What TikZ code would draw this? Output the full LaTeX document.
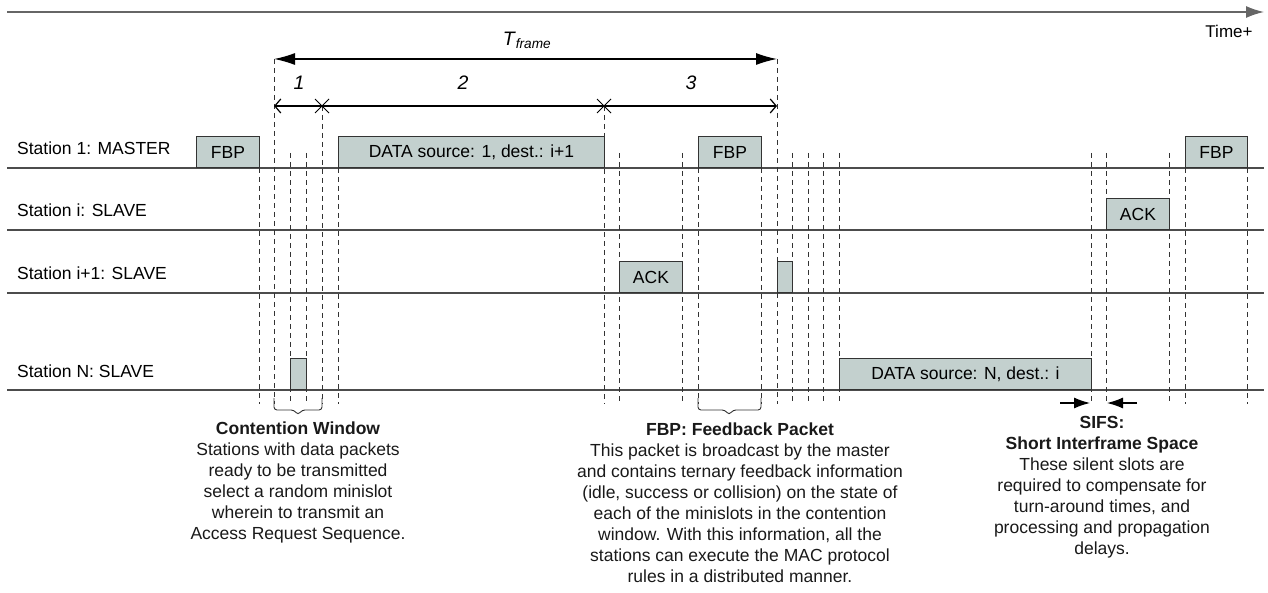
\documentclass[tikz,border=0pt]{standalone}
\usepackage{fontspec}
\setmainfont{Liberation Sans}
\usetikzlibrary{arrows.meta}
\definecolor{pktfill}{RGB}{195,208,206}
\newcommand{\txt}{\fontsize{17.5}{21}\selectfont}
\newcommand{\bigtxt}{\fontsize{19.5}{23}\selectfont}

\begin{document}
\begin{tikzpicture}[x=1pt, y=-1pt,
    pkt/.style={draw=black!80, fill=pktfill, line width=0.9pt, anchor=south west, inner sep=0pt, minimum height=31pt, font=\txt},
    slot/.style={dash pattern=on 5pt off 4pt, line width=0.8pt, black!80},
    row/.style={line width=1.1pt, black!70},
    curl/.style={rounded corners=3pt, line width=0.9pt, black!80},
    note/.style={align=center, anchor=north, inner sep=0pt, font=\txt, text=black!90}]
    \useasboundingbox (0,0) rectangle (1268,593);
    \draw[black!60, line width=1.5pt, -{Latex[length=18pt,width=12pt]}] (7,12) -- (1264,12);
    \node[font=\fontsize{17}{20}\selectfont] (time) at (1229,31) {Time+};

    \foreach \y/\name/\lab in {168/m/Station 1: MASTER, 230/s/Station i: SLAVE, 293/t/Station i+1: SLAVE, 390/n/Station N: SLAVE} {
        \draw[row] (7,\y) -- (1264,\y);
        \node[anchor=base west, inner sep=0pt, font=\txt] (st\name) at (17,\y-13) {\lab};
    }

    \foreach \x/\top in {259/168, 274/59, 290/153, 306/153, 322/106, 338/168, 604/106, 619/153, 682/153, 698/168, 761/168, 777/59, 792/153, 808/153, 823/153, 839/153, 1091/153, 1106/153, 1169/153, 1185/168, 1247/168}
        \draw[slot] (\x,\top) -- (\x,404);

    \node[pkt, minimum width=63pt] (fbpa) at (196,168) {FBP};
    \node[pkt, minimum width=266pt] (dataa) at (338,168) {DATA source: 1, dest.: i+1};
    \node[pkt, minimum width=63pt] (fbpb) at (698,168) {FBP};
    \node[pkt, minimum width=62pt] (fbpc) at (1185,168) {FBP};
    \node[pkt, minimum width=63pt] (acki) at (1106,230) {ACK};
    \node[pkt, minimum width=63pt] (ackt) at (619,293) {ACK};
    \node[pkt, minimum width=15pt] (arst) at (777,293) {};
    \node[pkt, minimum width=16pt] (arsn) at (290,390) {};
    \node[pkt, minimum width=252pt] (datan) at (839,390) {DATA source: N, dest.: i};

    \draw[line width=1.3pt, {Latex[length=21pt,width=12pt]}-{Latex[length=21pt,width=12pt]}] (274,59) -- (777,59);
    \node[font=\bigtxt] (tframe) at (527,40) {\textit{T}\textsubscript{\textit{frame}}};
    \draw[line width=1.2pt, {Straight Barb[length=6pt,width=14pt]}-{Straight Barb[length=6pt,width=14pt]}] (274,106) -- (777,106);
    \foreach \x in {322,604}
        \draw[line width=1pt] (\x-7,99) -- (\x+7,113) (\x-7,113) -- (\x+7,99);
    \node[font=\bigtxt] (ph1) at (299,83) {\textit{1}};
    \node[font=\bigtxt] (ph2) at (463,83) {\textit{2}};
    \node[font=\bigtxt] (ph3) at (691,83) {\textit{3}};

    \draw[curl] (274,398) -- (274,410) -- (294,410) -- (298,415) -- (302,410) -- (322,410) -- (322,398);
    \draw[curl] (698,398) -- (698,410) -- (725,410) -- (729,415) -- (733,410) -- (761,410) -- (761,398);
    \draw[line width=1.2pt, -{Latex[length=16pt,width=11pt]}] (1060,403) -- (1090,403);
    \draw[line width=1.2pt, -{Latex[length=16pt,width=11pt]}] (1137,403) -- (1107,403);

    \node[note] (cwnote) at (298,422) {\textbf{Contention Window}\\Stations with data packets\\ready to be transmitted\\select a random minislot\\wherein to transmit an\\Access Request Sequence.};
    \node[note] (fbpnote) at (740,423) {\textbf{FBP: Feedback Packet}\\This packet is broadcast by the master\\and contains ternary feedback information\\(idle, success or collision) on the state of\\each of the minislots in the contention\\window. With this information, all the\\stations can execute the MAC protocol\\rules in a distributed manner.};
    \node[note] (sifsnote) at (1102,416) {\textbf{SIFS:}\\\textbf{Short Interframe Space}\\These silent slots are\\required to compensate for\\turn-around times, and\\processing and propagation\\delays.};
\end{tikzpicture}
\end{document}
